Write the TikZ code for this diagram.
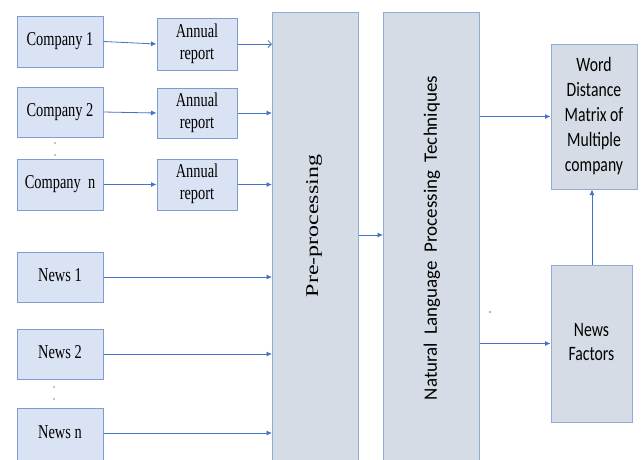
\documentclass[tikz,border=0pt]{standalone}
\usepackage{fontspec}
\setmainfont{Liberation Serif}
\newfontfamily\clbfont{Carlito}
\usetikzlibrary{arrows.meta}
\definecolor{boxfill}{HTML}{DAE3F3}
\definecolor{boxline}{HTML}{7F9CD0}
\definecolor{grayfill}{HTML}{D6DCE5}
\definecolor{grayline}{HTML}{8FAADC}
\definecolor{arrowc}{HTML}{4472C4}
\newcommand\tms[1]{\scalebox{1}[1.36]{\fontsize{14.4}{16.2}\selectfont\begin{tabular}{@{}c@{}}#1\end{tabular}}}
\newcommand\clb[1]{\scalebox{1}[1.3]{\clbfont\fontsize{15.7}{19.2}\selectfont\begin{tabular}{@{}c@{}}#1\end{tabular}}}
\begin{document}
\begin{tikzpicture}[x=1pt,y=-1pt,
  leftbox/.style={draw=boxline, fill=boxfill, line width=1pt, minimum width=86pt, minimum height=50pt, inner sep=0pt},
  repbox/.style={leftbox, minimum width=80pt},
  graybox/.style={draw=grayline, fill=grayfill, line width=1pt, inner sep=0pt},
  arr/.style={draw=arrowc, line width=0.8pt, -{Latex[length=5.5pt,width=5pt]}},
  openarr/.style={draw=arrowc, line width=0.8pt, -{Straight Barb[length=3.5pt,width=7pt]}},
  dotc/.style={fill=black}]
\useasboundingbox (0,0) rectangle (641,459);
\clip (0,0) rectangle (641,459);
\fill[white] (0,0) rectangle (641,459);
% big columns
\node[graybox, minimum width=86pt, minimum height=470pt, anchor=north west] (pre) at (272,12) {};
\node[graybox, minimum width=96pt, minimum height=470pt, anchor=north west] (nlp) at (383,12) {};
\node[rotate=90, inner sep=0pt] (pretext) at (314,226) {\scalebox{1.33}[1]{\fontsize{18}{20}\selectfont Pre-processing}};
\node[rotate=90, inner sep=0pt] (nlptext) at (432,238) {\clbfont\fontsize{19}{22}\selectfont Natural\ \ Language\ \ Processing\ \ Techniques};
% company boxes
\node[leftbox, minimum height=51pt] (c1) at (60,41.5) {\tms{Company 1}};
\node[leftbox] (c2) at (60,112) {\tms{Company 2}};
\node[leftbox, minimum height=51pt] (cn) at (60,184.5) {\tms{Company\ \ n}};
% annual reports
\node[repbox, minimum height=52pt] (a1) at (197,44) {\tms{Annual\\report}};
\node[repbox] (a2) at (197,113) {\tms{Annual\\report}};
\node[repbox, minimum height=51pt] (an) at (197,184.5) {\tms{Annual\\report}};
% news boxes
\node[leftbox] (n1) at (60,277) {\tms{News 1}};
\node[leftbox] (n2) at (60,354) {\tms{News 2}};
\node[leftbox, minimum height=62pt, anchor=north] (nn) at (60,408) {};
\node[inner sep=0pt] (nntext) at (60,434) {\tms{News n}};
% right boxes
\node[graybox, minimum width=86pt, minimum height=145pt] (wd) at (594,116.5) {\clb{Word\\Distance\\Matrix of\\Multiple\\company}};
\node[graybox, minimum width=81pt, minimum height=157pt] (nf) at (591.5,343.5) {\clb{News\\Factors}};
% helper coordinates
\coordinate (ypn) at (0,235);
\coordinate (ynn) at (0,433);
% arrows
\draw[arr] (c1.east) -- (a1.west);
\draw[arr] (c2.east) -- (a2.west);
\draw[arr] (cn.east) -- (an.west);
\draw[openarr] (a1.east) -- (a1.east -| pre.west);
\draw[arr] (a2.east) -- (a2.east -| pre.west);
\draw[arr] (an.east) -- (an.east -| pre.west);
\draw[arr] (n1.east) -- (n1.east -| pre.west);
\draw[arr] (n2.east) -- (n2.east -| pre.west);
\draw[arr] (nn.east |- ynn) -- (pre.west |- ynn);
\draw[arr] (pre.east |- ypn) -- (nlp.west |- ypn);
\draw[arr] (nlp.east |- wd.west) -- (wd.west);
\draw[arr] (nlp.east |- nf.west) -- (nf.west);
\coordinate (vx) at (592,0);
\draw[arr] (nf.north -| vx) -- (wd.south -| vx);
% dots
\fill[dotc] (55,143) circle (0.7pt);
\fill[dotc] (55,155) circle (0.7pt);
\fill[dotc] (54,387) circle (0.7pt);
\fill[dotc] (54,399) circle (0.7pt);
\fill[arrowc] (490,312) circle (0.8pt);
\end{tikzpicture}
\end{document}
